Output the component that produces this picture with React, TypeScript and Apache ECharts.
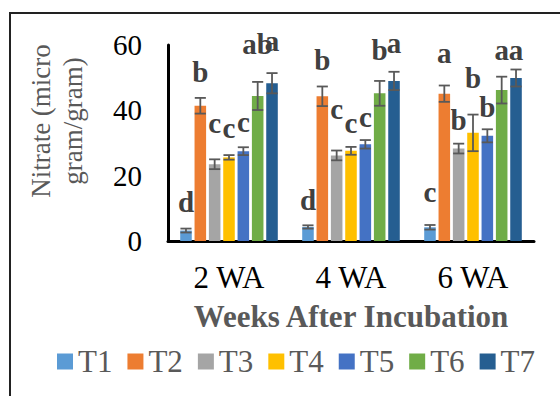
import React, { useEffect, useRef } from "react";
import * as echarts from "echarts";

const categories = ["2 WA", "4 WA", "6 WA"];
const treatments = ["T1", "T2", "T3", "T4", "T5", "T6", "T7"];
const colors = ["#5B9BD5", "#ED7D31", "#A5A5A5", "#FFC000", "#4472C4", "#70AD47", "#255E91"];

// Nitrate values per treatment (2, 4, 6 WA)
const t1Values = [3.2, 4.3, 4.2];
const t2Values = [41.4, 44.3, 45.1];
const t3Values = [23.5, 26.2, 28.3];
const t4Values = [25.6, 27.6, 33.1];
const t5Values = [27.5, 29.6, 32.2];
const t6Values = [44.4, 45.2, 46.2];
const t7Values = [48.3, 49.0, 49.9];

// Error (+/-) per treatment
const t1Err = [0.6, 0.5, 0.7];
const t2Err = [2.4, 3.0, 2.5];
const t3Err = [1.5, 1.5, 1.5];
const t4Err = [0.7, 1.2, 5.6];
const t5Err = [1.2, 1.3, 2.0];
const t6Err = [4.3, 3.8, 4.1];
const t7Err = [3.1, 2.8, 2.6];

// Significance letters per treatment
const t1Letters = ["d", "d", "c"];
const t2Letters = ["b", "b", "a"];
const t3Letters = ["c", "c", "b"];
const t4Letters = ["c", "c", "b"];
const t5Letters = ["c", "c", "b"];
const t6Letters = ["ab", "b", "a"];
const t7Letters = ["a", "a", "a"];

// Height (axis units) of each letter's baseline
const t1LetterY = [8.9, 9.4, 12.0];
const t2LetterY = [48.8, 52.4, 54.4];
const t3LetterY = [33.0, 37.2, 34.0];
const t4LetterY = [31.5, 33.1, 46.7];
const t5LetterY = [33.4, 35.0, 37.9];
const t6LetterY = [57.2, 55.4, 55.4];
const t7LetterY = [58.2, 57.5, 55.4];

const yMin = 0;
const yMax = 60;
const yInterval = 20;

const values = [t1Values, t2Values, t3Values, t4Values, t5Values, t6Values, t7Values];
const errors = [t1Err, t2Err, t3Err, t4Err, t5Err, t6Err, t7Err];
const letters = [t1Letters, t2Letters, t3Letters, t4Letters, t5Letters, t6Letters, t7Letters];
const letterYs = [t1LetterY, t2LetterY, t3LetterY, t4LetterY, t5LetterY, t6LetterY, t7LetterY];

const FONT = "Liberation Serif";
const BAR_GAP = "24%";
const BAR_CAT_GAP = "20%";

export default function App() {
  const ref = useRef<HTMLDivElement>(null);

  useEffect(() => {
    if (!ref.current) return;
    const chart = echarts.init(ref.current, undefined, { renderer: "svg" });

    const items: { c: number; t: number }[] = [];
    const customData: number[][] = [];
    for (let t = 0; t < treatments.length; t++) {
      for (let c = 0; c < categories.length; c++) {
        items.push({ c, t });
        customData.push([c, values[t][c] + errors[t][c]]);
      }
    }

    const barSeries = treatments.map((name, t) => ({
      name,
      type: "bar",
      data: values[t],
      barGap: BAR_GAP,
      barCategoryGap: BAR_CAT_GAP,
      itemStyle: { color: colors[t] },
      z: 2,
    }));

    const option: any = {
      animation: false,
      textStyle: { fontFamily: FONT },
      graphic: [
        {
          type: "rect",
          shape: { x: 10, y: 13, width: 700, height: 500 },
          style: { fill: "none", stroke: "#222", lineWidth: 2 },
          z: 0,
        },
      ],
      grid: { left: 168, right: 26, top: 45, bottom: 155, containLabel: false },
      legend: {
        data: treatments,
        left: 52,
        top: 341,
        icon: "rect",
        itemWidth: 16,
        itemHeight: 16,
        itemGap: 15,
        textStyle: { fontFamily: FONT, fontSize: 31, color: "#595959" },
      },
      xAxis: {
        type: "category",
        data: categories,
        axisLine: { show: true, lineStyle: { color: "#000", width: 3 } },
        axisTick: { show: false },
        axisLabel: { fontFamily: FONT, fontSize: 31, color: "#000", margin: 21 },
        name: "Weeks After Incubation",
        nameLocation: "middle",
        nameGap: 60,
        nameTextStyle: { fontFamily: FONT, fontSize: 31, fontWeight: "bold", color: "#595959" },
      },
      yAxis: {
        type: "value",
        min: yMin,
        max: yMax,
        interval: yInterval,
        axisLine: { show: true, lineStyle: { color: "#000", width: 3 } },
        axisTick: { show: false },
        splitLine: { show: false },
        axisLabel: { fontFamily: FONT, fontSize: 29, color: "#000", margin: 26 },
        name: "Nitrate (micro\ngram/gram)",
        nameLocation: "middle",
        nameGap: 79,
        nameTextStyle: {
          fontFamily: FONT,
          fontSize: 27,
          color: "#595959",
          lineHeight: 32,
          padding: [0, 0, 0, 44],
        },
      },
      series: [
        ...barSeries,
        {
          name: "errorbars",
          type: "custom",
          data: customData,
          encode: { x: 0, y: 1 },
          z: 5,
          renderItem: (params: any, api: any) => {
            const it = items[params.dataIndex];
            const v = values[it.t][it.c];
            const e = errors[it.t][it.c];
            const layout = api.barLayout({
              count: treatments.length,
              barGap: BAR_GAP,
              barCategoryGap: BAR_CAT_GAP,
            });
            const base = api.coord([it.c, 0]);
            const cx = base[0] + layout[it.t].offsetCenter;
            const yTop = api.coord([it.c, v + e])[1];
            const yBot = api.coord([it.c, v - e])[1];
            const yLetter = api.coord([it.c, letterYs[it.t][it.c]])[1];
            const hw = layout[it.t].width * 0.48;
            const stroke = { stroke: "#595959", lineWidth: 1.8 };
            return {
              type: "group",
              children: [
                { type: "line", shape: { x1: cx, y1: yTop, x2: cx, y2: yBot }, style: stroke },
                { type: "line", shape: { x1: cx - hw, y1: yTop, x2: cx + hw, y2: yTop }, style: stroke },
                { type: "line", shape: { x1: cx - hw, y1: yBot, x2: cx + hw, y2: yBot }, style: stroke },
                {
                  type: "text",
                  x: cx,
                  y: yLetter - 10,
                  style: {
                    text: letters[it.t][it.c],
                    fill: "#404040",
                    fontFamily: FONT,
                    fontSize: 29,
                    fontWeight: "bold",
                    align: "center",
                    verticalAlign: "middle",
                  },
                },
              ],
            };
          },
        },
      ],
    };

    chart.setOption(option);
    return () => chart.dispose();
  }, []);

  return (
    <div
      ref={ref}
      style={{ position: "fixed", left: 0, top: 0, width: 560, height: 396, background: "#fff" }}
    />
  );
}
